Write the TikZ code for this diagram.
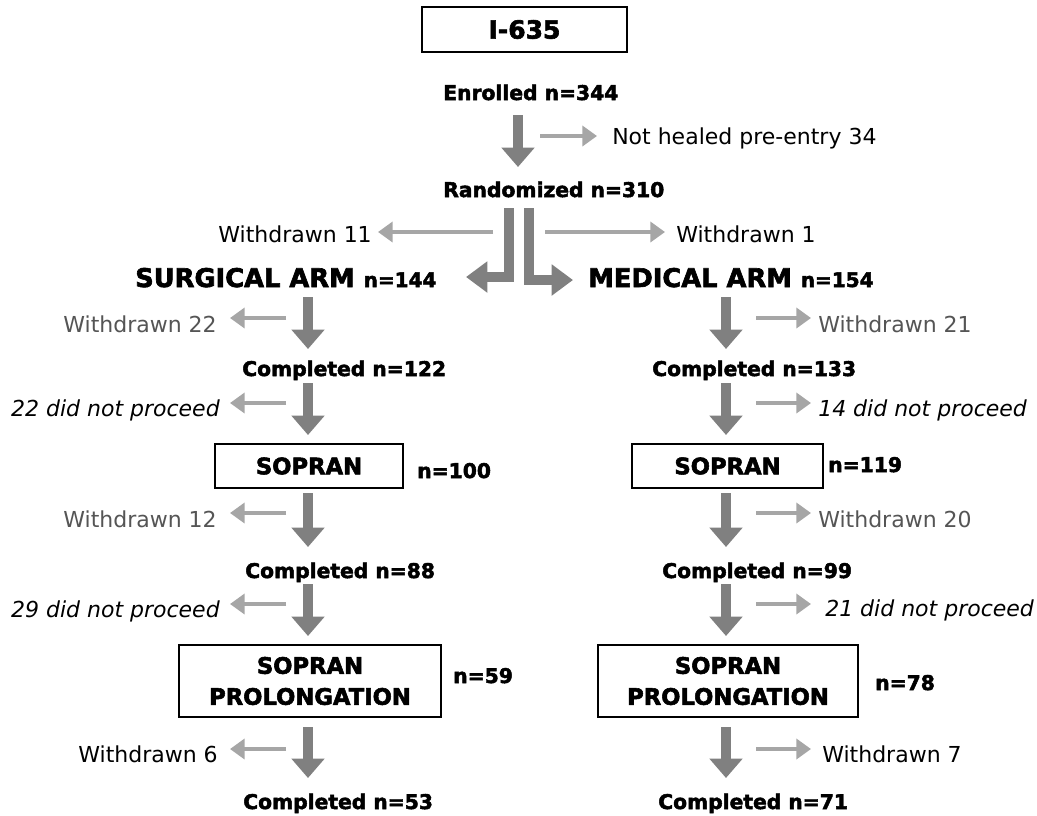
\documentclass[tikz,border=0pt]{standalone}
\usepackage{fontspec}
\setmainfont{DejaVu Sans}[BoldFeatures={FakeBold=2.4}]
\usetikzlibrary{arrows.meta}
\definecolor{bigc}{HTML}{808080}
\definecolor{smallc}{HTML}{A6A6A6}
\definecolor{txtgray}{HTML}{555555}
\newcommand\smallnfont{\fontsize{15}{18}\selectfont}
\begin{document}
\begin{tikzpicture}[x=0.75pt,y=-0.75pt,
  bigarrow/.style={draw=bigc, line width=7.5pt, -{Triangle[width=24pt,length=14.5pt]}},
  splitarrow/.style={draw=bigc, line width=7.2pt, line join=miter, -{Triangle[width=22.5pt,length=16pt]}},
  smallarrow/.style={draw=smallc, line width=3.6pt, -{Triangle[width=15pt,length=11pt]}},
  btxt/.style={font=\fontsize{15.2}{18}\selectfont\bfseries, inner sep=0pt, anchor=base west},
  armtxt/.style={font=\fontsize{19.3}{22}\selectfont\bfseries, inner sep=0pt, anchor=base west},
  rtxt/.style={font=\fontsize{16.5}{20}\selectfont, inner sep=0pt, anchor=base west},
  itxt/.style={font=\fontsize{16.5}{20}\selectfont\itshape, inner sep=0pt, anchor=base west},
  boxnode/.style={draw=black, line width=1pt, fill=white, inner sep=0pt, align=center,
    font=\fontsize{17}{23.25}\selectfont\bfseries}
]
\useasboundingbox (0,0) rectangle (1037,815);
\fill[white] (0,0) rectangle (1037,815);

% ---------- top ----------
\node[boxnode, minimum width=153.75pt, minimum height=33.75pt,
      font=\fontsize{18.75}{22}\selectfont\bfseries] (i635) at (524.5,29.5) {I-635};
\node[btxt] (enr) at (443,100) {Enrolled n=344};
\node[rtxt] (nh) at (612,144) {Not healed pre-entry 34};
\node[btxt] (rand) at (443,197) {Randomized n=310};
\node[rtxt, anchor=base east] (w11) at (372,242) {Withdrawn 11};
\node[rtxt] (w1) at (676,242) {Withdrawn 1};
\node[armtxt] (surg) at (135,287) {SURGICAL ARM {\smallnfont n=144}};
\node[armtxt] (med) at (588,287) {MEDICAL ARM {\smallnfont n=154}};

\draw[bigarrow] (518,115) coordinate (e1) -- (518,167) coordinate (e2);
\draw[smallarrow] (540,136) coordinate (nh1) -- (597,136) coordinate (nh2);
\draw[splitarrow] (509,208) coordinate (s1) -- (509,277) -- (466,277) coordinate (s2);
\draw[splitarrow] (529,208) coordinate (s3) -- (529,280) -- (573,280) coordinate (s4);
\draw[smallarrow] (493,232) coordinate (w11a) -- (378,232) coordinate (w11b);
\draw[smallarrow] (545,232) coordinate (w1a) -- (665,232) coordinate (w1b);

% ---------- surgical arm ----------
\node[rtxt, anchor=base east, text=txtgray] (w22) at (217,332) {Withdrawn 22};
\node[btxt] (c122) at (242,376) {Completed n=122};
\node[itxt, anchor=base east] (np22) at (220,416) {22 did not proceed};
\node[boxnode, minimum width=141pt, minimum height=33pt] (sopL) at (309,466) {SOPRAN};
\node[btxt] (n100) at (417,478) {n=100};
\node[rtxt, anchor=base east, text=txtgray] (w12) at (217,527) {Withdrawn 12};
\node[btxt] (c88) at (245,578) {Completed n=88};
\node[itxt, anchor=base east] (np29) at (220,617) {29 did not proceed};
\node[boxnode, minimum width=196.5pt, minimum height=54pt] (proL) at (310,681) {SOPRAN\\PROLONGATION};
\node[btxt] (n59) at (453,683) {n=59};
\node[rtxt, anchor=base east] (w6) at (218,762) {Withdrawn 6};
\node[btxt] (c53) at (243,809) {Completed n=53};

% ---------- medical arm ----------
\node[rtxt, text=txtgray] (w21) at (818,332) {Withdrawn 21};
\node[btxt] (c133) at (652,376) {Completed n=133};
\node[itxt] (np14) at (818,416) {14 did not proceed};
\node[boxnode, minimum width=143.25pt, minimum height=33pt] (sopR) at (727.5,466) {SOPRAN};
\node[btxt] (n119) at (828,472) {n=119};
\node[rtxt, text=txtgray] (w20) at (818,527) {Withdrawn 20};
\node[btxt] (c99) at (662,578) {Completed n=99};
\node[itxt] (np21) at (825,616) {21 did not proceed};
\node[boxnode, minimum width=195pt, minimum height=54pt] (proR) at (728,681) {SOPRAN\\PROLONGATION};
\node[btxt] (n78) at (875,690) {n=78};
\node[rtxt] (w7) at (822,762) {Withdrawn 7};
\node[btxt] (c71) at (658,809) {Completed n=71};

% ---------- column arrows ----------
\foreach \ya/\yb [count=\i] in {297/349, 383/435, 493/547, 584/636, 727/778} {
  \draw[bigarrow] (308,\ya) coordinate (la\i) -- (308,\yb) coordinate (lb\i);
  \draw[bigarrow] (726,\ya) coordinate (ra\i) -- (726,\yb) coordinate (rb\i);
}
\foreach \y [count=\i] in {318, 403, 513, 604, 749} {
  \draw[smallarrow] (286,\y) coordinate (lsa\i) -- (230,\y) coordinate (lsb\i);
  \draw[smallarrow] (756,\y) coordinate (rsa\i) -- (811,\y) coordinate (rsb\i);
}
\end{tikzpicture}
\end{document}
